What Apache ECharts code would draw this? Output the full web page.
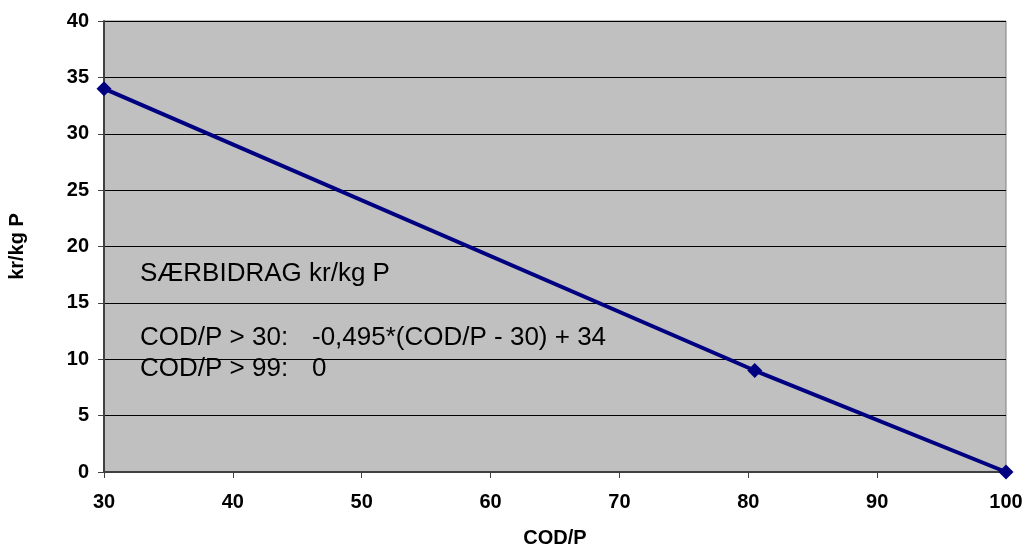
<!DOCTYPE html>
<html>
<head>
<meta charset="utf-8">
<script src="https://cdn.jsdelivr.net/npm/echarts@6/dist/echarts.min.js"></script>
<style>
html,body{margin:0;padding:0;background:#fff;}
#c{width:1027px;height:546px;}
</style>
</head>
<body>
<div id="c"></div>
<script>
var codP = [30, 80.5, 100];
var krKgP = [34, 9, 0];
var xTicks = [30, 40, 50, 60, 70, 80, 90, 100];
var yTicks = [0, 5, 10, 15, 20, 25, 30, 35, 40];
var noteTitle = 'SÆRBIDRAG kr/kg P';
var noteRules = ['COD/P > 30:', 'COD/P > 99:'];
var noteFormulas = ['-0,495*(COD/P - 30) + 34', '0'];

var font = '"Liberation Sans", Arial, sans-serif';
var chart = echarts.init(document.getElementById('c'));
var pts = codP.map(function (x, i) { return [x, krKgP[i]]; });

function note(txt, left, top) {
  return { type: 'text', left: left, top: top, z: 10,
    style: { text: txt, fontSize: 26, fontFamily: font, fill: '#000' } };
}
var graphics = [
  note(noteTitle, 140, 261),
  note(noteRules[0], 140, 325),
  note(noteFormulas[0], 312, 325),
  note(noteRules[1], 140, 356),
  note(noteFormulas[1], 312, 356)
];

chart.setOption({
  animation: false,
  textStyle: { fontFamily: font },
  grid: {
    left: 104, right: 21, top: 21, bottom: 74,
    containLabel: false, outerBoundsMode: 'none',
    show: true, backgroundColor: '#C0C0C0', borderColor: '#808080', borderWidth: 1
  },
  xAxis: {
    type: 'value', min: xTicks[0], max: xTicks[xTicks.length - 1], interval: 10,
    name: 'COD/P', nameLocation: 'middle', nameGap: 56,
    nameTextStyle: { fontSize: 20, fontWeight: 'bold', color: '#000', fontFamily: font },
    axisLine: { show: true, lineStyle: { color: '#404040', width: 2 } },
    axisTick: { show: true, length: 6, inside: false, lineStyle: { color: '#404040', width: 1 } },
    axisLabel: { fontSize: 20, fontWeight: 'bold', color: '#000', margin: 20, fontFamily: font },
    splitLine: { show: false }
  },
  yAxis: {
    type: 'value', min: yTicks[0], max: yTicks[yTicks.length - 1], interval: 5,
    name: 'kr/kg P', nameLocation: 'middle', nameGap: 77, nameRotate: 90,
    nameTextStyle: { fontSize: 20, fontWeight: 'bold', color: '#000', fontFamily: font },
    axisLine: { show: true, lineStyle: { color: '#404040', width: 2 } },
    axisTick: { show: true, length: 6, inside: false, lineStyle: { color: '#404040', width: 1 } },
    axisLabel: { fontSize: 20, fontWeight: 'bold', color: '#000', margin: 15, fontFamily: font },
    splitLine: { show: true, lineStyle: { color: '#000', width: 1 } }
  },
  series: [{
    type: 'line', data: pts,
    lineStyle: { color: '#000080', width: 4 },
    itemStyle: { color: '#000080' },
    symbol: 'diamond', symbolSize: 15, showSymbol: true,
    clip: false, z: 5
  }],
  graphic: graphics
});
</script>
</body>
</html>
